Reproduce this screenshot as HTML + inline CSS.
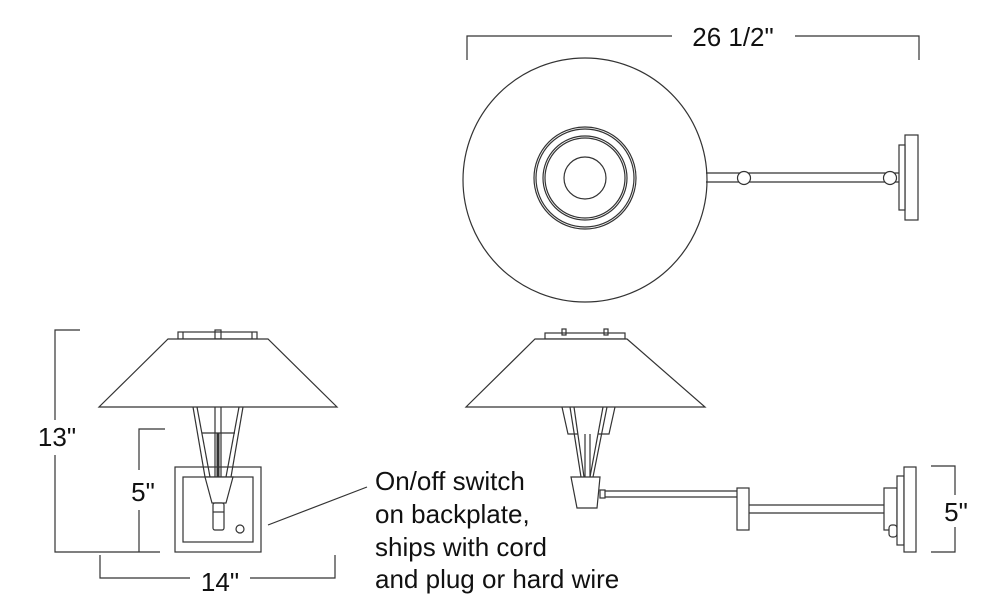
<!DOCTYPE html>
<html><head><meta charset="utf-8"><style>
html,body{margin:0;padding:0;background:#fff;width:1000px;height:616px;overflow:hidden}
svg{display:block}
text{font-family:"Liberation Sans",Arial,sans-serif;fill:#111}
</style></head><body>
<svg width="1000" height="616" viewBox="0 0 1000 616" xmlns="http://www.w3.org/2000/svg">
<g fill="none" stroke="#333" stroke-width="1.2">
<polyline points="467,60 467,36 672,36"/>
<polyline points="795,36 919,36 919,60"/>
<circle cx="585" cy="180" r="122"/>
<circle cx="585" cy="178" r="51"/>
<circle cx="585" cy="178" r="49"/>
<circle cx="585" cy="178" r="42"/>
<circle cx="585" cy="178" r="40"/>
<circle cx="585" cy="178" r="21"/>
<line x1="706" y1="173" x2="899" y2="173"/>
<line x1="706" y1="182" x2="899" y2="182"/>
<circle cx="744" cy="178" r="6.5" fill="#fff"/>
<circle cx="890" cy="178" r="6.5" fill="#fff"/>
<rect x="905" y="135" width="13" height="85" fill="#fff"/>
<rect x="899" y="145" width="6" height="65" fill="#fff"/>

<polyline points="80,330 55,330 55,420"/>
<polyline points="55,455 55,552 160,552"/>
<polyline points="165,429 139,429 139,470"/>
<line x1="139" y1="510" x2="139" y2="552"/>
<polyline points="100,555 100,578 190,578"/>
<polyline points="250,578 335,578 335,555"/>

<rect x="178" y="332" width="79" height="7"/>
<line x1="183" y1="332" x2="183" y2="339"/><line x1="252" y1="332" x2="252" y2="339"/>
<rect x="215" y="330" width="6" height="9"/>
<polygon points="168,339 268,339 337,407 99,407" fill="#fff"/>
<rect x="175" y="467" width="86" height="85"/>
<rect x="183" y="477" width="70" height="65"/>
<line x1="193" y1="407" x2="205" y2="477"/>
<line x1="197" y1="407" x2="210" y2="477"/>
<line x1="243" y1="407" x2="231" y2="477"/>
<line x1="239" y1="407" x2="226" y2="477"/>
<line x1="215" y1="407" x2="215" y2="477"/>
<line x1="221" y1="407" x2="221" y2="477"/>
<line x1="202" y1="433" x2="235" y2="433"/>
<rect x="216.5" y="433" width="3" height="44" fill="#333" stroke="none"/>
<polygon points="205,477 233,477 226,503 212,503" fill="#fff"/>
<rect x="213" y="503" width="11" height="27" rx="2" fill="#fff"/>
<line x1="213" y1="512" x2="224" y2="512"/>
<circle cx="240" cy="529" r="4"/>
<line x1="268" y1="525" x2="367" y2="487"/>

<rect x="545" y="333" width="80" height="6"/>
<rect x="562" y="329" width="4" height="6"/>
<rect x="604" y="329" width="4" height="6"/>
<polygon points="535,339 627,339 705,407 466,407" fill="#fff"/>
<polyline points="562,407 568,434 578,434"/>
<polyline points="615,407 609,434 598,434"/>
<line x1="570" y1="407" x2="581" y2="477"/>
<line x1="574" y1="407" x2="584" y2="477"/>
<line x1="607" y1="407" x2="593" y2="477"/>
<line x1="603" y1="407" x2="590" y2="477"/>
<line x1="585" y1="434" x2="585" y2="477"/>
<line x1="590" y1="434" x2="590" y2="477"/>
<polygon points="571,477 600,477 597,508 577,508" fill="#fff"/>
<rect x="600" y="490" width="5" height="8"/>
<line x1="605" y1="491" x2="737" y2="491"/>
<line x1="605" y1="497" x2="737" y2="497"/>
<rect x="737" y="488" width="12" height="42" fill="#fff"/>
<line x1="749" y1="505" x2="884" y2="505"/>
<line x1="749" y1="513" x2="884" y2="513"/>
<rect x="884" y="488" width="13" height="42" fill="#fff"/>
<rect x="889" y="525" width="8" height="12" rx="3" fill="#fff"/>
<rect x="897" y="476" width="7" height="69" fill="#fff"/>
<rect x="904" y="467" width="12" height="85" fill="#fff"/>
<polyline points="931,466 955,466 955,495"/>
<polyline points="955,527 955,552 931,552"/>
</g>
<g font-size="26">
<text x="733" y="46" text-anchor="middle">26 1/2"</text>
<text x="57" y="446" text-anchor="middle">13"</text>
<text x="143" y="501" text-anchor="middle">5"</text>
<text x="220" y="591" text-anchor="middle">14"</text>
<text x="956" y="521" text-anchor="middle">5"</text>
<text x="375" y="490">On/off switch</text>
<text x="375" y="523">on backplate,</text>
<text x="375" y="556">ships with cord</text>
<text x="375" y="588">and plug or hard wire</text>
</g>
</svg>
</body></html>
